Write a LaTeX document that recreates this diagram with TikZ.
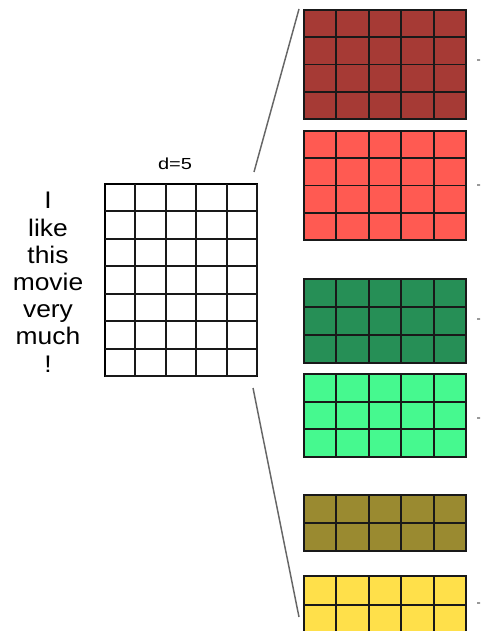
\documentclass[tikz,border=0pt]{standalone}
\usepackage{fontspec}
\setmainfont{Liberation Sans}
\usetikzlibrary{calc}

% interior grid lines of a block: node name, columns, rows
\newcommand\cellgrid[3]{%
  \foreach \k in {1,...,#2} {
    \draw[cellline] ($(#1.north west)!{\k/#2}!(#1.north east)$) -- ($(#1.south west)!{\k/#2}!(#1.south east)$);
  }
  \foreach \k in {1,...,#3} {
    \draw[cellline] ($(#1.north west)!{\k/#3}!(#1.south west)$) -- ($(#1.north east)!{\k/#3}!(#1.south east)$);
  }
}

\definecolor{darkred}{HTML}{A63A35}
\definecolor{lightred}{HTML}{FF5A52}
\definecolor{darkgreen}{HTML}{268F56}
\definecolor{lightgreen}{HTML}{46F98F}
\definecolor{olive}{HTML}{9A8A30}
\definecolor{sunyellow}{HTML}{FFE04A}

\begin{document}
\begin{tikzpicture}[x=0.75pt,y=-0.75pt,
  cellline/.style={draw=black!90, line width=1.45pt},
  blockbox/.style={draw=black!90, line width=1.45pt, inner sep=0pt, outer sep=0pt,
    minimum width=121.5pt},
  matbox/.style={draw=black, line width=1.45pt, inner sep=0pt, outer sep=0pt,
    minimum width=114pt, minimum height=144pt, fill=white},
  word/.style={anchor=base, inner sep=0pt, font=\fontsize{18pt}{20pt}\selectfont, xscale=1.1},
  dimlabel/.style={inner sep=0pt, font=\fontsize{12pt}{14pt}\selectfont, xscale=1.25},
  zoomline/.style={draw=black!60, line width=1.1pt},
  edgetick/.style={draw=black!40, line width=1.5pt}
]
\useasboundingbox (0,0) rectangle (480,631);
\clip (0,0) rectangle (480,631);

% sentence matrix
\node[matbox] (mat) at (181,280) {};
\cellgrid{mat}{5}{7}
\node[dimlabel] (dim) at (175,164) {d=5};

% words, one per row
\node[word] (w1) at (48,208) {I};
\node[word] (w2) at (48,236) {like};
\node[word] (w3) at (48,263) {this};
\node[word] (w4) at (48,290) {movie};
\node[word] (w5) at (48,317) {very};
\node[word] (w6) at (48,344) {much};
\node[word] (w7) at (48,372) {!};

% filter blocks
\node[blockbox, fill=darkred,    minimum height=81.75pt] (f1) at (385,64.5) {};
\node[blockbox, fill=lightred,   minimum height=81.75pt] (f2) at (385,185.5) {};
\node[blockbox, fill=darkgreen,  minimum height=63pt]    (f3) at (385,321) {};
\node[blockbox, fill=lightgreen, minimum height=62.25pt] (f4) at (385,415.5) {};
\node[blockbox, fill=olive,      minimum height=42pt]    (f5) at (385,523) {};
\node[blockbox, fill=sunyellow,  minimum height=43.5pt]  (f6) at (385,605) {};
\cellgrid{f1}{5}{4}
\cellgrid{f2}{5}{4}
\cellgrid{f3}{5}{3}
\cellgrid{f4}{5}{3}
\cellgrid{f5}{5}{2}
\cellgrid{f6}{5}{2}

% fan lines from the matrix to the filter column
\coordinate (ztop1) at (254,172);
\coordinate (ztop2) at (299,9);
\coordinate (zbot1) at (253,388);
\coordinate (zbot2) at (299,617);
\draw[zoomline] (ztop1) -- (ztop2);
\draw[zoomline] (zbot1) -- (zbot2);

% short marks to the right of each block
\foreach \b/\y in {f1/60, f2/185, f3/319, f4/418, f6/603} {
  \coordinate (t\b) at (477,\y);
  \draw[edgetick] (t\b) -- ++(4,0);
}
\end{tikzpicture}
\end{document}
